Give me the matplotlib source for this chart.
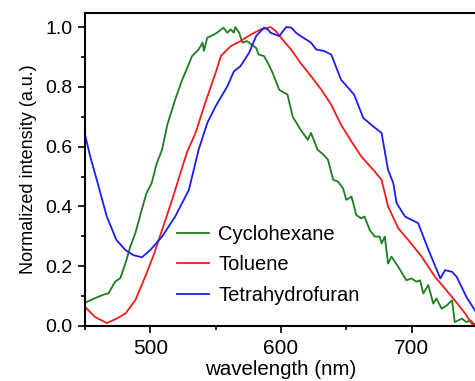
import matplotlib
matplotlib.use("Agg")
import matplotlib.pyplot as plt
from matplotlib.ticker import MultipleLocator, FormatStrFormatter

plt.rcParams['font.family'] = ['Liberation Sans', 'DejaVu Sans']

# Cyclohexane
cyc_x = [450, 451, 457.7, 461.5, 465, 468, 473, 477, 481, 484.6, 488.5, 492, 497, 501, 505, 509,
         513, 519, 524, 532, 537, 540, 541, 543.6, 548.7, 551, 556, 559, 561.5, 564, 565, 568,
         570.5, 574, 581, 583, 587, 590, 593.6, 598.7, 605, 609, 615, 620.5, 623, 628, 632, 636,
         640, 643.6, 647.5, 650, 654, 657.7, 661.5, 664, 668, 671.8, 675.6, 677, 679.5, 682,
         684.6, 689.8, 696, 700, 703.8, 706.4, 709, 712.8, 716.6, 719, 723, 727, 731, 733,
         738.5, 742, 745, 747.5, 750]
cyc_y = [0.077, 0.08, 0.093, 0.10, 0.106, 0.109, 0.148, 0.16, 0.21, 0.265, 0.31, 0.366, 0.444, 0.478,
         0.545, 0.59, 0.673, 0.757, 0.819, 0.903, 0.925, 0.948, 0.92, 0.964, 0.975, 0.981, 0.998,
         0.981, 0.992, 0.981, 1.0, 0.981, 0.948, 0.953, 0.93, 0.908, 0.903, 0.88, 0.847, 0.79,
         0.774, 0.70, 0.657, 0.623, 0.646, 0.59, 0.575, 0.556, 0.489, 0.483, 0.461, 0.422, 0.433,
         0.371, 0.36, 0.366, 0.321, 0.299, 0.299, 0.276, 0.299, 0.209, 0.232, 0.198, 0.153,
         0.159, 0.148, 0.153, 0.109, 0.137, 0.075, 0.092, 0.058, 0.069, 0.086, 0.013, 0.025,
         0.013, 0.019, 0.008, 0.005]

# Toluene
tol_x = [450, 457.7, 466.7, 474.4, 481, 488.5, 496, 502.5, 509, 516.7, 523, 528, 534.6, 542, 550,
         554, 561.5, 569, 577, 584.6, 592, 596, 601, 607.7, 615, 623, 631, 638.5, 646, 654,
         661.5, 671.8, 677, 682, 689.8, 697.4, 707.7, 718, 725.6, 733, 741, 746, 750]
tol_y = [0.064, 0.03, 0.01, 0.025, 0.042, 0.086, 0.164, 0.237, 0.321, 0.422, 0.511, 0.58, 0.646,
         0.746, 0.847, 0.903, 0.936, 0.953, 0.975, 0.992, 1.0, 0.987, 0.959, 0.925, 0.88, 0.836,
         0.79, 0.74, 0.673, 0.617, 0.567, 0.517, 0.489, 0.40, 0.327, 0.288, 0.232, 0.164, 0.125,
         0.086, 0.042, 0.008, 0.0]

# Tetrahydrofuran
thf_x = [450, 454, 459, 466.7, 474, 481, 487, 493.6, 500, 509, 519, 529.5, 537, 543.6, 550, 559,
         564, 569, 575.6, 581, 587, 590, 592, 598.7, 604, 608, 611.5, 615, 623, 627, 633, 638.5,
         646, 656, 663, 670.5, 677, 682, 686, 688.5, 695, 705, 713, 722, 725.6, 731, 734.6, 742,
         750]
thf_y = [0.64, 0.567, 0.489, 0.366, 0.288, 0.254, 0.237, 0.23, 0.254, 0.299, 0.366, 0.455, 0.59,
         0.679, 0.735, 0.802, 0.852, 0.869, 0.914, 0.97, 0.998, 0.992, 0.981, 0.97, 1.0, 0.998,
         0.981, 0.97, 0.948, 0.925, 0.92, 0.908, 0.824, 0.774, 0.696, 0.668, 0.646, 0.522,
         0.478, 0.411, 0.366, 0.344, 0.254, 0.159, 0.187, 0.181, 0.164, 0.097, 0.042]

labels = ["Cyclohexane", "Toluene", "Tetrahydrofuran"]
colors = ["#1e7d1e", "#f01c1c", "#1c1cf0"]

fig = plt.figure(figsize=(4.75, 3.81), dpi=100)
ax = fig.add_axes([85/475, 1 - 326/381, 1 - 85/475 + 0.004, (326 - 13)/381])

for xs, ys, lab, c in zip([cyc_x, tol_x, thf_x], [cyc_y, tol_y, thf_y], labels, colors):
    ax.plot(xs, ys, color=c, lw=1.3, label=lab)

ax.set_xlim(450, 750)
ax.set_ylim(0, 1.047)
ax.xaxis.set_major_locator(MultipleLocator(100))
ax.xaxis.set_minor_locator(MultipleLocator(50))
ax.yaxis.set_major_locator(MultipleLocator(0.2))
ax.yaxis.set_minor_locator(MultipleLocator(0.1))
ax.yaxis.set_major_formatter(FormatStrFormatter('%.1f'))
ax.tick_params(which='both', direction='out', width=1.2, colors='black')
ax.tick_params(which='major', length=5, pad=4)
ax.tick_params(which='minor', length=3)
ax.tick_params(axis='x', labelsize=15)
ax.tick_params(axis='y', labelsize=14)
ax.tick_params(top=False, right=False)
for s in ax.spines.values():
    s.set_linewidth(1.5)

ax.set_xlabel("wavelength (nm)", fontsize=14.8, labelpad=2)
ax.set_ylabel("Normalized intensity (a.u.)", fontsize=13, labelpad=6)

ax.legend(loc='upper left', bbox_to_anchor=(0.235, 0.324), frameon=False, fontsize=14.5,
          handlelength=1.6, handletextpad=0.45, labelspacing=0.58, borderaxespad=0,
          borderpad=0)

fig.savefig("out.png", dpi=100)
